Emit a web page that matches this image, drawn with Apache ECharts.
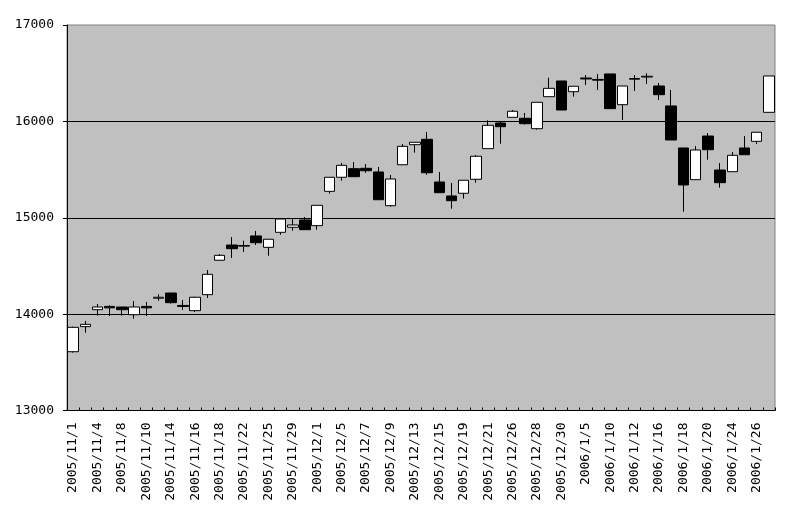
<!DOCTYPE html>
<html>
<head>
<meta charset="utf-8">
<script src="https://cdn.jsdelivr.net/npm/echarts@6/dist/echarts.min.js"></script>
<style>
html,body{margin:0;padding:0;background:#fff;}
#chart{width:787px;height:516px;}
</style>
</head>
<body>
<div id="chart"></div>
<script>
const categories = [
  '2005/11/1','2005/11/2','2005/11/4','2005/11/7','2005/11/8','2005/11/9','2005/11/10','2005/11/11',
  '2005/11/14','2005/11/15','2005/11/16','2005/11/17','2005/11/18','2005/11/21','2005/11/22','2005/11/24',
  '2005/11/25','2005/11/28','2005/11/29','2005/11/30','2005/12/1','2005/12/2','2005/12/5','2005/12/6',
  '2005/12/7','2005/12/8','2005/12/9','2005/12/12','2005/12/13','2005/12/14','2005/12/15','2005/12/16',
  '2005/12/19','2005/12/20','2005/12/21','2005/12/22','2005/12/26','2005/12/27','2005/12/28','2005/12/29',
  '2005/12/30','2006/1/4','2006/1/5','2006/1/6','2006/1/10','2006/1/11','2006/1/12','2006/1/13',
  '2006/1/16','2006/1/17','2006/1/18','2006/1/19','2006/1/20','2006/1/23','2006/1/24','2006/1/25',
  '2006/1/26','2006/1/27'
];
const openValues = [
  13610,13870,14046,14080,14074,13994,14080,14165,14219,14090,14036,14202,14559,14717,14705,14811,
  14693,14849,14901,14977,14918,15274,15420,15509,15513,15475,15125,15550,15758,15814,15371,15226,
  15254,15399,15717,15983,16042,16032,15924,16256,16419,16308,16450,16435,16492,16173,16445,16460,
  16367,16160,15724,15395,15848,15495,15478,15724,15793,16094
];
const closeValues = [
  13863,13894,14074,14065,14046,14074,14065,14175,14119,14080,14175,14413,14610,14679,14712,14741,
  14777,14987,14925,14876,15129,15420,15544,15426,15488,15187,15402,15741,15783,15467,15260,15177,
  15389,15638,15959,15945,16105,15976,16198,16343,16118,16364,16440,16428,16132,16367,16438,16468,
  16277,15807,15340,15703,15706,15364,15648,15654,15887,16471
];
const lowValues = [
  13600,13807,13984,13981,13984,13953,13981,14139,14108,14043,14022,14167,14559,14582,14645,14717,
  14606,14824,14866,14876,14876,15250,15384,15426,15467,15187,15115,15550,15675,15447,15260,15094,
  15198,15364,15717,15768,16042,15966,15914,16256,16118,16256,16377,16326,16132,16014,16315,16388,
  16222,15807,15063,15395,15602,15312,15478,15654,15765,16094
];
const highValues = [
  13870,13929,14105,14092,14074,14136,14126,14206,14222,14147,14180,14458,14624,14800,14762,14863,
  14777,14995,14990,15008,15129,15420,15568,15578,15557,15527,15444,15765,15783,15890,15475,15361,
  15389,15651,16011,16001,16118,16087,16198,16453,16419,16364,16481,16492,16492,16367,16481,16499,
  16398,16326,15724,15744,15879,15568,15682,15848,15887,16471
];
const yMin = 13000, yMax = 17000, yStep = 1000;

const candleData = categories.map((c, i) => [openValues[i], closeValues[i], lowValues[i], highValues[i]]);

const chart = echarts.init(document.getElementById('chart'), null, {renderer: 'canvas'});
const font = 'DejaVu Sans Mono';
chart.setOption({
  animation: false,
  backgroundColor: '#ffffff',
  grid: {
    left: 67, right: 12, top: 25, bottom: 105.5,
    show: true,
    backgroundColor: '#C0C0C0',
    borderColor: '#808080',
    borderWidth: 1
  },
  xAxis: {
    type: 'category',
    data: categories,
    boundaryGap: true,
    axisLine: {show: true, lineStyle: {color: '#000', width: 1}},
    axisTick: {show: true, inside: true, length: 3, interval: 0, lineStyle: {color: '#000'}},
    axisLabel: {
      interval: 1, rotate: 90, margin: 12,
      fontFamily: font, fontSize: 13, color: '#000'
    },
    splitLine: {show: false}
  },
  yAxis: {
    type: 'value',
    min: yMin, max: yMax, interval: yStep,
    axisLine: {show: true, lineStyle: {color: '#000', width: 1}},
    axisTick: {show: true, inside: false, length: 4, lineStyle: {color: '#000'}},
    axisLabel: {
      margin: 13, fontFamily: font, fontSize: 13, color: '#000',
      formatter: function (v) { return String(v); }
    },
    splitLine: {show: true, showMinLine: false, showMaxLine: false, lineStyle: {color: '#000', width: 1}}
  },
  series: [{
    type: 'candlestick',
    data: candleData,
    barWidth: 11,
    itemStyle: {
      color: '#ffffff',
      color0: '#000000',
      borderColor: '#000000',
      borderColor0: '#000000',
      borderWidth: 1
    }
  }]
});
</script>
</body>
</html>
